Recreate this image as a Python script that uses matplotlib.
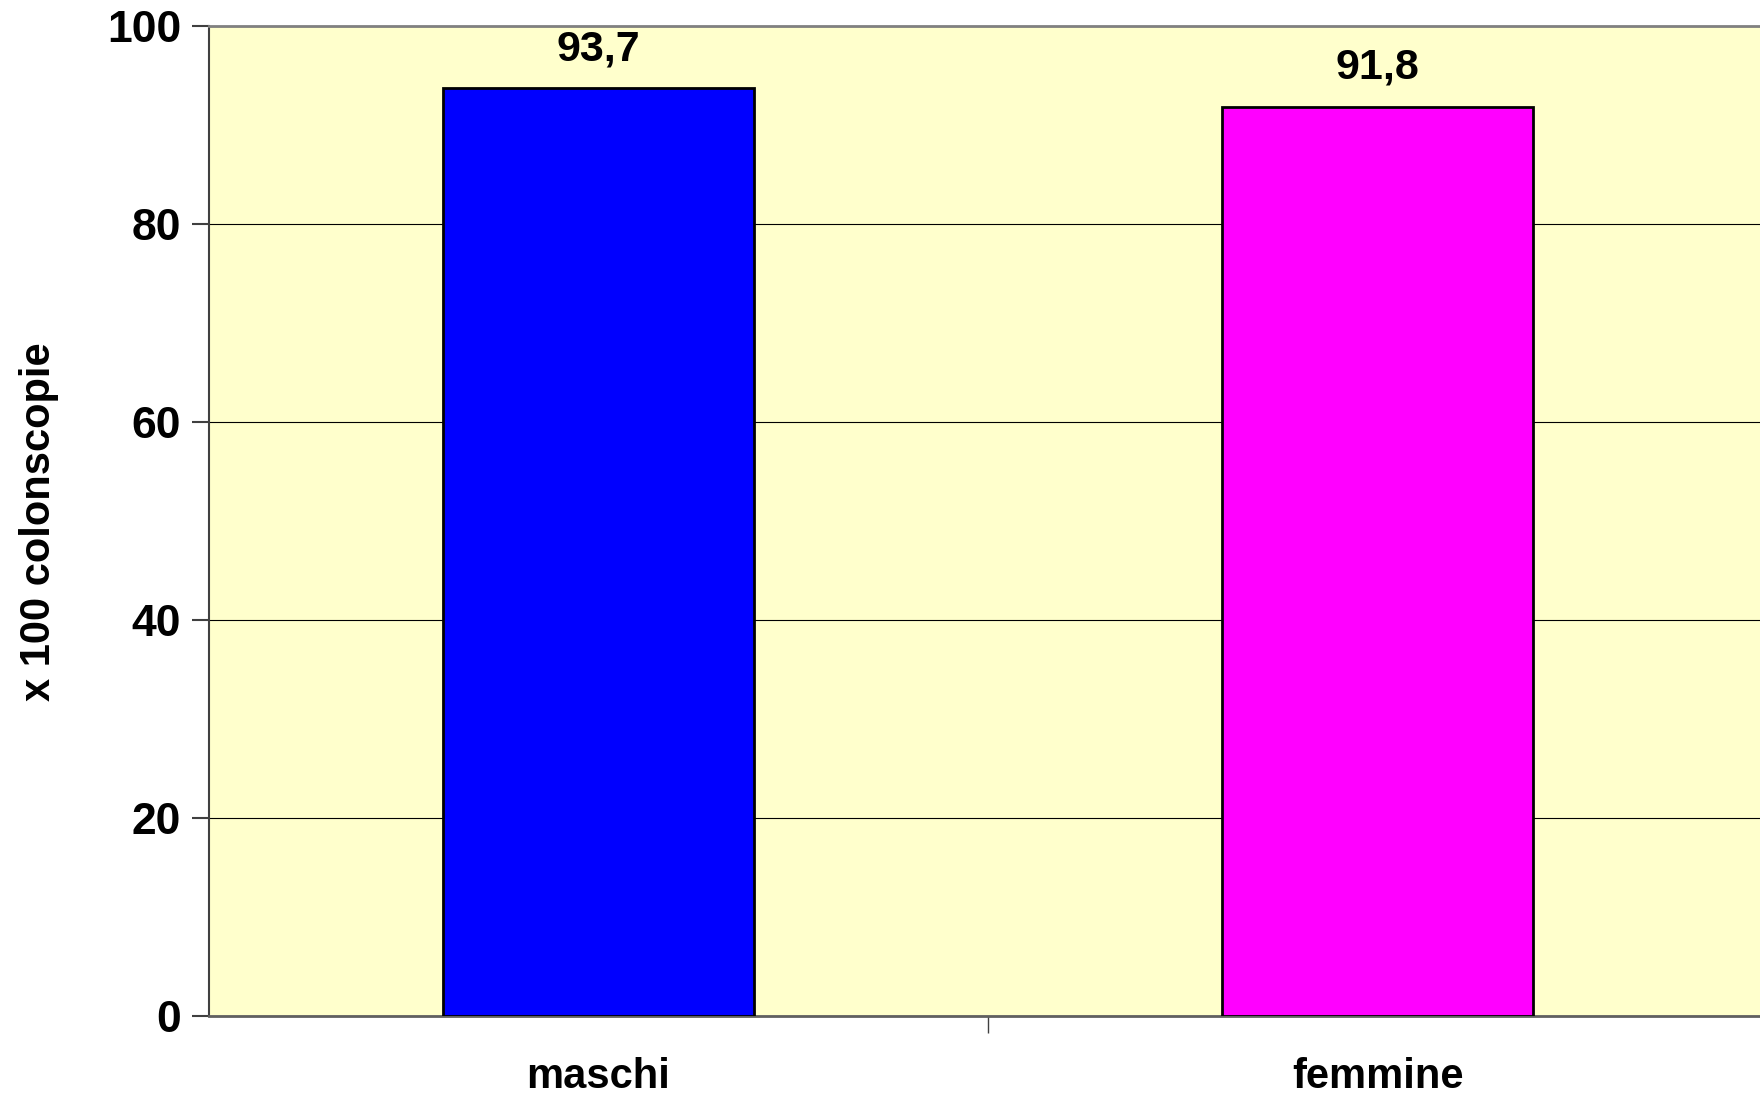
import matplotlib
matplotlib.use("Agg")
import matplotlib.pyplot as plt

categories = ["maschi", "femmine"]
values = [93.7, 91.8]
labels = ["93,7", "91,8"]
colors = ["#0000FF", "#FF00FF"]
yticks = [0, 20, 40, 60, 80, 100]
ylabel = "x 100 colonscopie"

plt.rcParams['font.family'] = ['Liberation Sans', 'DejaVu Sans']

fig = plt.figure(figsize=(17.6, 11.01), dpi=100)
ax = fig.add_axes([0.11875, 0.0772, 1.004 - 0.11875, 0.9768 - 0.0772])
ax.set_facecolor("#FFFFCC")

x = list(range(len(categories)))
ax.bar(x, values, width=0.4, color=colors, edgecolor="black", linewidth=2, zorder=3)
for xi, v, lab in zip(x, values, labels):
    ax.annotate(lab, (xi, v), xytext=(0, 28), textcoords="offset points",
                ha="center", va="center", fontsize=31, fontweight="bold", zorder=4)

ax.set_xlim(-0.5, 1.5)
ax.set_ylim(0, 100)
ax.set_yticks(yticks)
ax.set_yticklabels([str(t) for t in yticks], fontsize=32, fontweight="bold")
ax.yaxis.grid(True, color="black", linewidth=0.8, zorder=1)
ax.set_axisbelow(True)

ax.set_xticks([0.5])
ax.set_xticklabels([""])
ax.tick_params(axis="x", length=12, width=1, color="#404040")
ax.tick_params(axis="y", length=12, width=1.5, color="#404040", pad=8)
for xi, c in zip(x, categories):
    ax.text(xi, -0.0616, c, transform=ax.get_xaxis_transform(), ha="center", va="center",
            fontsize=30, fontweight="bold")

fig.text(39 / 1760, 0.526, ylabel, rotation=90, ha="center", va="center",
         fontsize=30, fontweight="bold")

ax.spines["top"].set_color("#808080")
ax.spines["top"].set_linewidth(2)
ax.spines["left"].set_color("#404040")
ax.spines["left"].set_linewidth(1.5)
ax.spines["bottom"].set_color("#606060")
ax.spines["bottom"].set_linewidth(2)
ax.spines["right"].set_visible(False)

fig.savefig("out.png", dpi=100, facecolor="white")
